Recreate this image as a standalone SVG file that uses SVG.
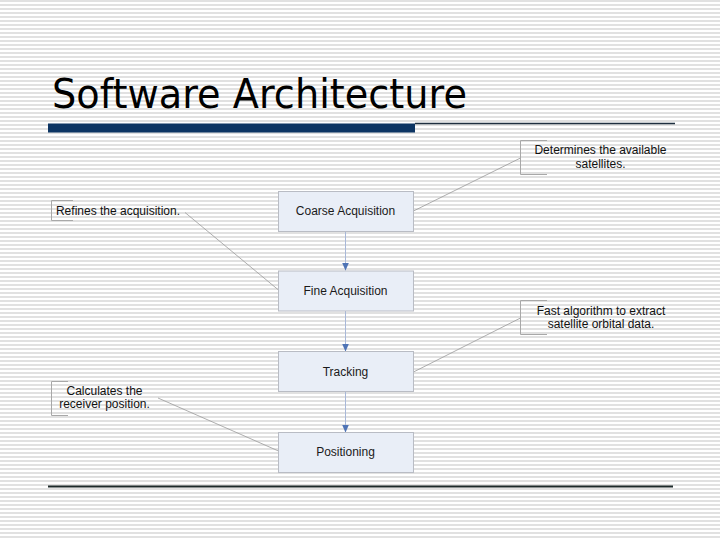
<svg xmlns="http://www.w3.org/2000/svg" width="720" height="540" viewBox="0 0 720 540">
<defs>
<pattern id="stripes" x="0" y="0" width="720" height="4" patternUnits="userSpaceOnUse">
<rect x="0" y="0.25" width="720" height="1.5" fill="#d8d8d8"/>
</pattern>
<marker id="arr" markerWidth="8" markerHeight="7" refX="8" refY="3.5" orient="auto" markerUnits="userSpaceOnUse">
<path d="M0,0 L8,3.5 L0,7 Z" fill="#4f74b5"/>
</marker>
</defs>
<style>
.box{fill:#e9eef7;stroke:#b9bcc4;stroke-width:1}
.lbl{font-family:"Liberation Sans",Arial,sans-serif;font-size:12px;fill:#1a1a1a;text-anchor:middle}
.note{font-family:"Liberation Sans",Arial,sans-serif;font-size:12px;fill:#111;text-anchor:middle}
.lead{stroke:#9a9a9a;stroke-width:0.8;fill:none}
.brk{stroke:#a8a8a8;stroke-width:1;fill:none}
.flow{stroke:#a8b8d8;stroke-width:1;fill:none;marker-end:url(#arr)}
</style>
<rect x="0" y="0" width="720" height="540" fill="#ffffff"/>
<rect x="0" y="0" width="720" height="540" fill="url(#stripes)"/>
<g id="title">
<text x="52" y="108" font-family="'DejaVu Sans',Verdana,sans-serif" font-size="40" fill="#000" textLength="415" lengthAdjust="spacingAndGlyphs">Software Architecture</text>
<rect x="48" y="123.5" width="367" height="9" fill="#0d3563"/>
<line x1="415" y1="123.5" x2="675" y2="123.5" stroke="#1f3040" stroke-width="1.5"/>
<line x1="48" y1="486.5" x2="673" y2="486.5" stroke="#1e2b2b" stroke-width="1.8"/>
</g>
<g id="connectors">
<line class="flow" x1="345.5" y1="231" x2="345.5" y2="270.5"/>
<line class="flow" x1="345.5" y1="311" x2="345.5" y2="351.5"/>
<line class="flow" x1="345.5" y1="391.5" x2="345.5" y2="432.5"/>
<line class="lead" x1="520.5" y1="158" x2="413.5" y2="211"/>
<line class="lead" x1="185" y1="212.5" x2="278.5" y2="290"/>
<line class="lead" x1="520.5" y1="318" x2="413.5" y2="372"/>
<line class="lead" x1="158" y1="398" x2="278.5" y2="451"/>
</g>
<g id="coarse">
<rect class="box" x="278.5" y="191.5" width="135" height="40"/>
<text class="lbl" x="345.5" y="215">Coarse Acquisition</text>
</g>
<g id="fine">
<rect class="box" x="278.5" y="271" width="135" height="40"/>
<text class="lbl" x="345.5" y="295">Fine Acquisition</text>
</g>
<g id="tracking">
<rect class="box" x="278.5" y="351.5" width="135" height="40"/>
<text class="lbl" x="345.5" y="375.5">Tracking</text>
</g>
<g id="positioning">
<rect class="box" x="278.5" y="432.5" width="135" height="40"/>
<text class="lbl" x="345.5" y="456">Positioning</text>
</g>
<g id="note-determines">
<path class="brk" d="M547,140.5 H520.5 V174.5 H547"/>
<text class="note" x="600.5" y="154">Determines the available</text>
<text class="note" x="600.5" y="167.5">satellites.</text>
</g>
<g id="note-refines">
<path class="brk" d="M73,200.5 H51.5 V220.5 H73"/>
<text class="note" x="118" y="214.5">Refines the acquisition.</text>
</g>
<g id="note-fast">
<path class="brk" d="M547,300.5 H520.5 V334.5 H547"/>
<text class="note" x="601" y="315">Fast algorithm to extract</text>
<text class="note" x="601" y="328">satellite orbital data.</text>
</g>
<g id="note-calculates">
<path class="brk" d="M68,381.5 H51.5 V415.5 H68"/>
<text class="note" x="104.5" y="395">Calculates the</text>
<text class="note" x="104.5" y="408">receiver position.</text>
</g>
</svg>
